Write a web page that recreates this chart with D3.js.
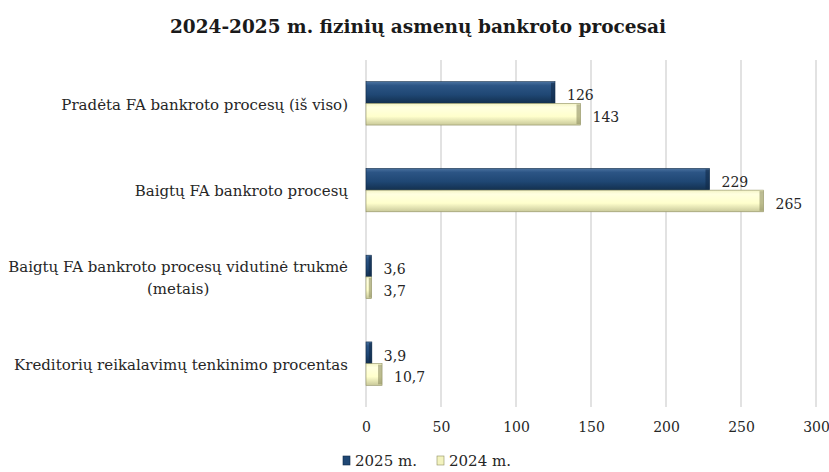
<!DOCTYPE html>
<html>
<head>
<meta charset="utf-8">
<script src="https://cdn.jsdelivr.net/npm/d3@7"></script>
<style>
  body { margin: 0; background: #fff; }
  svg text { font-family: "DejaVu Serif", serif; fill: #262626; }
  .title { font-weight: bold; font-size: 18.5px; fill: #1a1a1a; }
  .catLabels { font-size: 15px; }
  .dataLabels { font-size: 14px; }
  .tick text { font-size: 14px; }
  .legend text { font-size: 15px; }
</style>
</head>
<body>
<svg id="svg-barchart" width="829" height="472"></svg>
<script>
// data
var categories = [
  ["Pradėta FA bankroto procesų (iš viso)"],
  ["Baigtų FA bankroto procesų"],
  ["Baigtų FA bankroto procesų vidutinė trukmė", "(metais)"],
  ["Kreditorių reikalavimų tenkinimo procentas"]
];
var values2025 = [126, 229, 3.6, 3.9];
var values2024 = [143, 265, 3.7, 10.7];
var valueLabels2025 = ["126", "229", "3,6", "3,9"];
var valueLabels2024 = ["143", "265", "3,7", "10,7"];
var seriesNames = ["2025 m.", "2024 m."];
var xTicks = [0, 50, 100, 150, 200, 250, 300];

var svg = d3.select("#svg-barchart");
var marginLeft = 366;   // where zero sits
var marginRight = 13;
var plotTop = 60;
var plotBottom = 407;
var w = 829;

var xScale = d3.scaleLinear().domain([0, 300]).range([marginLeft, w - marginRight]);
var yScale = d3.scaleBand()
  .domain(d3.range(categories.length))
  .range([plotTop, plotBottom])
  .paddingInner(0.5)
  .paddingOuter(0.25);
var barH = yScale.bandwidth() / 2;

// gradients for the bevelled look
var defs = svg.append("defs");
function grad(id, stops) {
  var g = defs.append("linearGradient").attr("id", id)
    .attr("x1", 0).attr("y1", 0).attr("x2", 0).attr("y2", 1);
  stops.forEach(function(s) {
    g.append("stop").attr("offset", s[0]).attr("stop-color", s[1]);
  });
}
grad("g2025", [[0, "#4a72a0"], [0.18, "#2c5585"], [0.6, "#1f4774"], [1, "#13304f"]]);
grad("g2024", [[0, "#f3f3c4"], [0.18, "#ffffe0"], [0.6, "#ffffcc"], [1, "#c9c99a"]]);

// title
svg.append("text")
  .attr("class", "title")
  .attr("x", 418)
  .attr("y", 33)
  .attr("text-anchor", "middle")
  .text("2024-2025 m. fizinių asmenų bankroto procesai");

// grid lines
svg.selectAll("gridLines")
  .data(xTicks)
  .enter()
  .append("line")
  .attr("x1", function(d) { return xScale(d); })
  .attr("x2", function(d) { return xScale(d); })
  .attr("y1", plotTop)
  .attr("y2", plotBottom)
  .attr("stroke", "#d9d9d9")
  .attr("stroke-width", 1.5);

// x axis labels
var xAxis = d3.axisBottom(xScale).tickValues(xTicks).tickSize(0).tickPadding(0);
var gx = svg.append("g").attr("transform", "translate(0," + (plotBottom + 15) + ")").call(xAxis);
gx.select(".domain").remove();
gx.selectAll("text").attr("dy", "0.71em").attr("font-family", "DejaVu Serif");

// bars
var series = [
  { vals: values2025, labels: valueLabels2025, fill: "url(#g2025)", edge: "#102a47", off: 0 },
  { vals: values2024, labels: valueLabels2024, fill: "url(#g2024)", edge: "#8f8f62", off: barH }
];
series.forEach(function(s) {
  var g = svg.append("g");
  g.selectAll("rect")
    .data(s.vals)
    .enter()
    .append("rect")
    .attr("x", xScale(0))
    .attr("y", function(d, i) { return yScale(i) + s.off; })
    .attr("width", function(d) { return xScale(d) - xScale(0); })
    .attr("height", barH)
    .attr("fill", s.fill)
    .attr("stroke", s.edge)
    .attr("stroke-width", 0.6);
  // darker right end bevel
  g.selectAll("ends")
    .data(s.vals)
    .enter()
    .append("rect")
    .attr("x", function(d) { return xScale(d) - Math.min(4, (xScale(d) - xScale(0)) / 2); })
    .attr("y", function(d, i) { return yScale(i) + s.off + 1; })
    .attr("width", function(d) { return Math.min(4, (xScale(d) - xScale(0)) / 2); })
    .attr("height", barH - 2)
    .attr("fill", s.edge)
    .attr("opacity", 0.6);
  g.selectAll("dataLabels")
    .data(s.vals)
    .enter()
    .append("text")
    .attr("class", "dataLabels")
    .attr("x", function(d) { return xScale(d) + 12; })
    .attr("y", function(d, i) { return yScale(i) + s.off + barH / 2 + 3; })
    .attr("dy", "0.35em")
    .text(function(d, i) { return s.labels[i]; });
});

// category labels
var lab = svg.selectAll("catLabels")
  .data(categories)
  .enter()
  .append("text")
  .attr("class", "catLabels")
  .attr("text-anchor", "middle");
lab.each(function(lines, i) {
  var t = d3.select(this);
  var lh = 22;
  var y0 = yScale(i) + yScale.bandwidth() / 2 - (lines.length - 1) * lh / 2 + 1;
  lines.forEach(function(l, j) {
    t.append("tspan").attr("y", y0 + j * lh).attr("dy", "0.35em").text(l);
  });
  var maxW = 0;
  t.selectAll("tspan").each(function() { maxW = Math.max(maxW, this.getComputedTextLength()); });
  t.selectAll("tspan").attr("x", 348 - maxW / 2);
});

// legend
var legend = svg.append("g").attr("class", "legend");
var legendX = [343, 437];
var legendFill = ["#1f4774", "#f3f3bf"];
var legendEdge = ["#102a47", "#8f8f62"];
seriesNames.forEach(function(n, i) {
  legend.append("rect")
    .attr("x", legendX[i]).attr("y", 456)
    .attr("width", 7).attr("height", 9)
    .attr("fill", legendFill[i]).attr("stroke", legendEdge[i]).attr("stroke-width", 0.6);
  legend.append("text")
    .attr("x", legendX[i] + 12).attr("y", 461).attr("dy", "0.35em")
    .text(n);
});
</script>
</body>
</html>
